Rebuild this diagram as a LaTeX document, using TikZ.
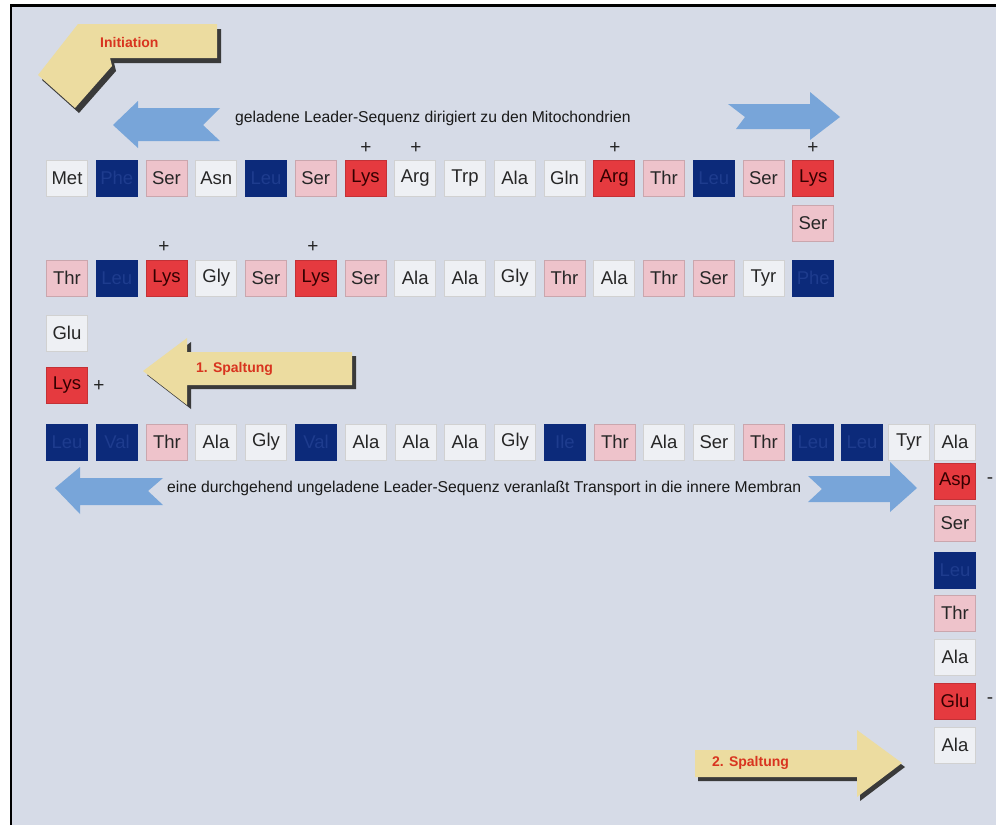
\documentclass[tikz,border=0pt]{standalone}
\usepackage{fontspec}
\setmainfont{Liberation Sans}
\definecolor{bgc}{HTML}{D6DBE7}
\definecolor{boxW}{HTML}{EEF0F4}
\definecolor{boxP}{HTML}{EEC3CB}
\definecolor{boxR}{HTML}{E53A3F}
\definecolor{boxB}{HTML}{0C2A7A}
\definecolor{txtB}{HTML}{1E3C8E}
\definecolor{beige}{HTML}{ECDCA0}
\definecolor{shade}{HTML}{3A3A3A}
\definecolor{arrblue}{HTML}{78A5D9}
\definecolor{redtxt}{HTML}{D8341F}
\begin{document}
\begin{tikzpicture}[x=1pt,y=-1pt,
  am/.style={minimum width=41pt,minimum height=36pt,inner sep=0pt,line width=0.7pt,
     font=\fontsize{18.5}{18.5}\selectfont},
  amW/.style={am,fill=boxW,draw=black!18,text=black!85},
  amP/.style={am,fill=boxP,draw=boxP!85!black,text=black!85},
  amR/.style={am,fill=boxR,draw=boxR!85!black,text=black!80!red},
  amB/.style={am,fill=boxB,draw=boxB,text=txtB},
  sign/.style={inner sep=0pt,font=\fontsize{19}{19}\selectfont,text=black!85},
  lbl/.style={inner sep=0pt,anchor=west,font=\fontsize{15.7}{15.7}\selectfont,text=black!90},
  redlbl/.style={inner sep=0pt,anchor=west,font=\fontsize{14}{14}\selectfont\bfseries,text=redtxt},
  beigearr/.style={fill=beige},
  shadowarr/.style={fill=shade},
  bluearr/.style={fill=arrblue}]
\useasboundingbox (0,0) rectangle (996,825);
\fill[white] (0,0) rectangle (996,825);
\fill[bgc] (12,5) rectangle (996,825);
\draw[line width=2.5pt] (11,825) -- (11,5.5) -- (996,5.5);

% ---- blue arrows
\fill[bluearr] (113,125) -- (138,101) -- (138,108) -- (220,108) -- (203,125) -- (220,141) -- (138,141) -- (138,148) -- cycle;
\fill[bluearr] (840,117) -- (810,92) -- (810,104) -- (728,104) -- (745,117) -- (736,129) -- (810,129) -- (810,140) -- cycle;
\fill[bluearr] (55,488) -- (80,467) -- (80,478) -- (163,478) -- (148,491) -- (163,505) -- (80,505) -- (80,514) -- cycle;
\fill[bluearr] (917,488) -- (890,462) -- (890,476) -- (808,476) -- (822,489) -- (808,502) -- (890,502) -- (890,512) -- cycle;

\node[lbl] (t1) at (235,118) {geladene Leader-Sequenz dirigiert zu den Mitochondrien};
\node[lbl] (t2) at (167,488) {eine durchgehend ungeladene Leader-Sequenz veranlaßt Transport in die innere Membran};

% ---- beige arrows
\fill[shadowarr,shift={(4,5)}] (78,24) -- (217,24) -- (217,58) -- (110,58) -- (112,66) -- (75,108) -- (38,75) -- cycle;
\fill[beigearr] (78,24) -- (217,24) -- (217,58) -- (110,58) -- (112,66) -- (75,108) -- (38,75) -- cycle;
\node[redlbl] (ini) at (100,42) {Initiation};

\fill[shadowarr,shift={(4,4)}] (352,352) -- (187,352) -- (187,338) -- (143,371) -- (187,405) -- (187,385) -- (352,385) -- cycle;
\fill[beigearr] (352,352) -- (187,352) -- (187,338) -- (143,371) -- (187,405) -- (187,385) -- (352,385) -- cycle;
\node[redlbl] (sp1) at (196,369) {1. Spaltung};

\fill[shadowarr,shift={(3,4)}] (695,750) -- (857,750) -- (857,730) -- (902,763) -- (857,797) -- (857,777) -- (695,777) -- cycle;
\fill[beigearr] (695,750) -- (857,750) -- (857,730) -- (902,763) -- (857,797) -- (857,777) -- (695,777) -- cycle;
\node[redlbl] (sp2) at (712,763) {2. Spaltung};

% ---- row 1
\foreach \t/\s [count=\i from 0] in {Met/W,Phe/B,Ser/P,Asn/W,Leu/B,Ser/P,Lys/R,Arg/W,Trp/W,Ala/W,Gln/W,Arg/R,Thr/P,Leu/B,Ser/P,Lys/R}
  \node[am\s] (a\i) at ({67+49.75*\i},178) {\t};
\node[amP] (a16) at (813,223) {Ser};
% ---- row 2
\foreach \t/\s [count=\i from 0] in {Thr/P,Leu/B,Lys/R,Gly/W,Ser/P,Lys/R,Ser/P,Ala/W,Ala/W,Gly/W,Thr/P,Ala/W,Thr/P,Ser/P,Tyr/W,Phe/B}
  \node[am\s] (b\i) at ({67+49.75*\i},278) {\t};
\node[amW] (c1) at (67,333) {Glu};
\node[amR] (c2) at (67,385) {Lys};
% ---- row 3
\foreach \t/\s/\x [count=\i from 0] in {Leu/B/67,Val/B/117,Thr/P/167,Ala/W/216,Gly/W/266,Val/B/316,Ala/W/366,Ala/W/416,Ala/W/465,Gly/W/515,Ile/B/565,Thr/P/615,Ala/W/664,Ser/W/714,Thr/P/764,Leu/B/813,Leu/B/862,Tyr/W/909,Ala/W/955}
  \node[am\s] (d\i) at (\x,442) {\t};
% ---- right column
\foreach \t/\s/\y [count=\i from 0] in {Asp/R/481,Ser/P/523,Leu/B/570,Thr/P/613,Ala/W/657,Glu/R/701,Ala/W/745}
  \node[am\s] (e\i) at (955,\y) {\t};

% ---- charges
\node[sign] (pa6) at (366,148) {+};
\node[sign] (pa7) at (416,148) {+};
\node[sign] (pa11) at (615,148) {+};
\node[sign] (pa15) at (813,148) {+};
\node[sign] (pb2) at (164,247) {+};
\node[sign] (pb5) at (313,247) {+};
\node[sign] (pc2) at (99,386) {+};
\node[sign] (me0) at (990,481) {-};
\node[sign] (me5) at (990,701) {-};
\end{tikzpicture}
\end{document}
